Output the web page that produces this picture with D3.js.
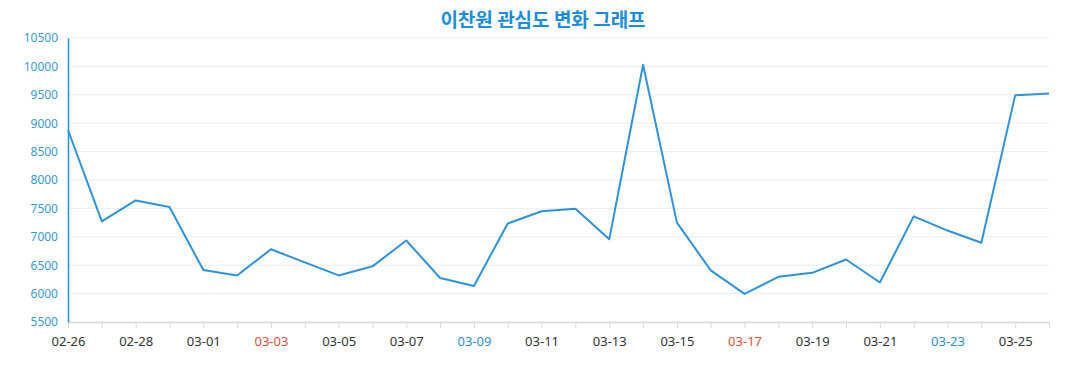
<!DOCTYPE html>
<html>
<head>
<meta charset="utf-8">
<script src="https://cdn.jsdelivr.net/npm/d3@7"></script>
<style>
  body { margin: 0; background: #fff; }
  svg text { font-family: "Noto Sans", "Open Sans", sans-serif; }
</style>
</head>
<body>
<div id="chart"></div>
<script>
var chartTitle = '이찬원 관심도 변화 그래프';
var dates = ['02-26','02-27','02-28','02-29','03-01','03-02','03-03','03-04','03-05','03-06',
             '03-07','03-08','03-09','03-10','03-11','03-12','03-13','03-14','03-15','03-16',
             '03-17','03-18','03-19','03-20','03-21','03-22','03-23','03-24','03-25','03-26'];
var interest = [8880, 7270, 7640, 7525, 6415, 6320, 6780, 6550, 6320, 6480,
                6935, 6275, 6135, 7235, 7450, 7495, 6955, 10030, 7250, 6410,
                5995, 6295, 6365, 6600, 6195, 7360, 7110, 6895, 9490, 9525];
var yTicks = [5500, 6000, 6500, 7000, 7500, 8000, 8500, 9000, 9500, 10000, 10500];
var year = 2024;

var width = 1077, height = 390;
var margin = { top: 38, right: 28, bottom: 68, left: 68 };

var svg = d3.select('#chart').append('svg')
  .attr('width', width)
  .attr('height', height);

var x = d3.scalePoint()
  .domain(dates)
  .range([margin.left, width - margin.right]);

var y = d3.scaleLinear()
  .domain([5500, 10500])
  .range([height - margin.bottom, margin.top]);

// title
svg.append('text')
  .attr('x', 543)
  .attr('y', 27)
  .attr('text-anchor', 'middle')
  .style('font-family', '"Noto Sans CJK KR", sans-serif')
  .style('font-weight', 'bold')
  .style('font-size', '19px')
  .attr('fill', '#1a8de0')
  .text(chartTitle);

// grid lines
svg.append('g')
  .selectAll('line')
  .data(yTicks)
  .enter()
  .append('line')
  .attr('x1', margin.left)
  .attr('x2', width - margin.right)
  .attr('y1', function(d) { return y(d); })
  .attr('y2', function(d) { return y(d); })
  .attr('stroke', '#eeeeee')
  .attr('stroke-width', 1);

// x axis
var xAxis = svg.append('g')
  .attr('transform', 'translate(0,' + y(5500) + ')')
  .call(d3.axisBottom(x).tickSize(6).tickSizeOuter(0).tickFormat(function(d, i) { return i % 2 === 0 ? d : ''; }));
xAxis.select('.domain').attr('stroke', '#d9d9d9').attr('stroke-width', 1.5);
xAxis.selectAll('.tick line').attr('stroke', '#d9d9d9');
xAxis.selectAll('.tick text')
  .attr('y', 15)
  .attr('dy', '0.71em')
  .style('font-size', '13px')
  .attr('fill', function(d) {
    var p = d.split('-');
    var day = new Date(year, +p[0] - 1, +p[1]).getDay();
    if (day === 0) return '#e2503a';
    if (day === 6) return '#2893d3';
    return '#333333';
  });

// y axis
var yAxis = svg.append('g')
  .attr('transform', 'translate(' + margin.left + ',0)')
  .call(d3.axisLeft(y).tickValues(yTicks).tickSize(0).tickFormat(d3.format('d')));
yAxis.select('.domain').attr('stroke', '#2a8fdb').attr('stroke-width', 1.5);
yAxis.selectAll('.tick text')
  .attr('x', -10)
  .style('font-size', '12px')
  .attr('fill', '#3a9ad9');

// line
var line = d3.line()
  .x(function(d, i) { return x(dates[i]); })
  .y(function(d) { return y(d); });

svg.append('path')
  .datum(interest)
  .attr('d', line)
  .attr('fill', 'none')
  .attr('stroke', '#2d93e0')
  .attr('stroke-width', 2)
  .attr('stroke-linejoin', 'round');
</script>
</body>
</html>
